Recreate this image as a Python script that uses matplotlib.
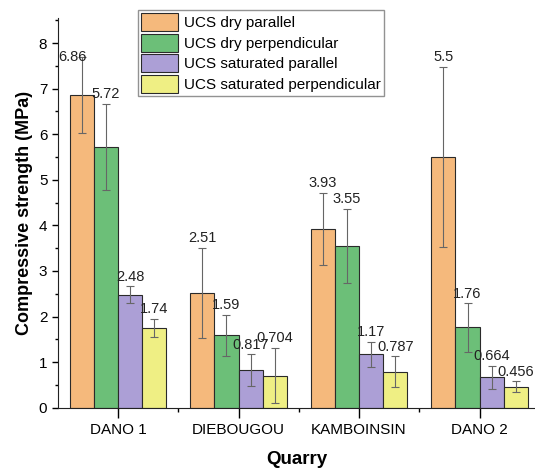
import matplotlib.pyplot as plt
import numpy as np
from matplotlib.ticker import MultipleLocator, FixedLocator

quarries = ["DANO 1", "DIEBOUGOU", "KAMBOINSIN", "DANO 2"]
series = [
    "UCS dry parallel",
    "UCS dry perpendicular",
    "UCS saturated parallel",
    "UCS saturated perpendicular",
]
dry_par = [6.86, 2.51, 3.93, 5.5]
dry_perp = [5.72, 1.59, 3.55, 1.76]
sat_par = [2.48, 0.817, 1.17, 0.664]
sat_perp = [1.74, 0.704, 0.787, 0.456]
dry_par_err = [0.83, 0.99, 0.79, 1.98]
dry_perp_err = [0.94, 0.45, 0.82, 0.53]
sat_par_err = [0.18, 0.35, 0.28, 0.26]
sat_perp_err = [0.20, 0.61, 0.34, 0.12]
value_labels = [
    ["6.86", "2.51", "3.93", "5.5"],
    ["5.72", "1.59", "3.55", "1.76"],
    ["2.48", "0.817", "1.17", "0.664"],
    ["1.74", "0.704", "0.787", "0.456"],
]

COLORS = ["#F5B97C", "#6CBF78", "#AC9FD6", "#EFEF84"]

plt.rcParams.update({
    "font.family": ["Liberation Sans", "DejaVu Sans"],
    "font.size": 11,
})

fig = plt.figure(figsize=(5.35, 4.7), dpi=100)
ax = fig.add_axes([0.108, 0.1326, 0.892, 0.829])

values = [dry_par, dry_perp, sat_par, sat_perp]
errors = [dry_par_err, dry_perp_err, sat_par_err, sat_perp_err]
x = np.arange(1, len(quarries) + 1)
width = 0.2

for i, (vals, errs) in enumerate(zip(values, errors)):
    xs = x + (i - 1.5) * width
    ax.bar(xs, vals, width=width, color=COLORS[i], edgecolor="#2a2a2a",
           linewidth=0.8, label=series[i], zorder=2)
    ax.errorbar(xs, vals, yerr=errs, fmt="none", ecolor="#666666",
                elinewidth=0.8, capsize=3, capthick=0.8, zorder=3)
    for j, (xv, v, e) in enumerate(zip(xs, vals, errs)):
        dx, dy = 0, 2
        if i == 0 and j == 0:
            # label in the original sits left of its error bar
            dx, dy = -7, -5
        ax.annotate(value_labels[i][j], (xv, v + e), xytext=(dx, dy),
                    textcoords="offset points", ha="center", va="bottom",
                    fontsize=10.5, color="#222222", zorder=4)

ax.set_xlim(0.5, 4.46)
ax.set_ylim(0, 8.55)
ax.set_xticks(x)
ax.set_xticklabels(quarries, fontsize=11)
ax.xaxis.set_minor_locator(FixedLocator([1.5, 2.5, 3.5]))
ax.yaxis.set_major_locator(MultipleLocator(1))
ax.yaxis.set_minor_locator(MultipleLocator(0.5))
ax.tick_params(axis="x", which="major", length=7, width=1, direction="out", pad=4)
ax.tick_params(axis="x", which="minor", length=3, width=1, direction="out")
ax.tick_params(axis="y", which="major", length=4, width=1, direction="out", labelsize=11)
ax.tick_params(axis="y", which="minor", length=2.5, width=1, direction="out")

ax.spines["top"].set_visible(False)
ax.spines["right"].set_visible(False)
ax.spines["left"].set_color("#222222")
ax.spines["bottom"].set_color("#222222")

ax.set_xlabel("Quarry", fontsize=13.5, fontweight="bold", labelpad=10)
ax.set_ylabel("Compressive strength (MPa)", fontsize=13, fontweight="bold", labelpad=4)

ax.legend(loc="upper left", bbox_to_anchor=(0.168, 1.02), borderaxespad=0,
          frameon=True, fancybox=False, edgecolor="#777777", fontsize=11,
          handlelength=2.4, handleheight=1.45, labelspacing=0.15,
          handletextpad=0.4, borderpad=0.2)

fig.savefig("out.png", dpi=100)
